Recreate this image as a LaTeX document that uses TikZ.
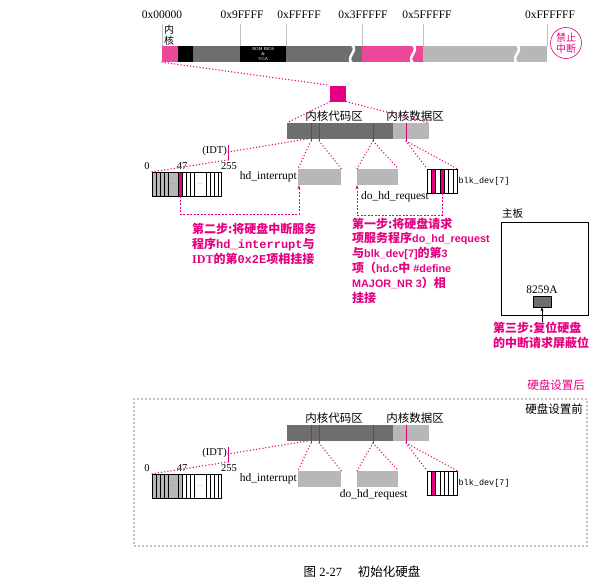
\documentclass[tikz,border=0pt]{standalone}
\usepackage{fontspec}
\setmainfont{Liberation Serif}
\newfontfamily\cjk{Noto Sans CJK SC}
\newfontfamily\codefont{Liberation Mono}
\newfontfamily\stepfont[Scale=0.9]{Liberation Sans}
\newcommand\zht[1]{{\cjk #1}}
\usetikzlibrary{arrows.meta,positioning,calc}
\definecolor{pinkm}{RGB}{229,0,127}
\definecolor{pinkl}{RGB}{236,72,153}
\definecolor{gray1}{RGB}{110,110,110}
\definecolor{gray2}{RGB}{183,183,183}

\begin{document}
\begin{tikzpicture}[x=1pt,y=-1pt,
    seg/.style={rectangle, inner sep=0pt, minimum height=16pt, anchor=west},
    cellbox/.style={draw, thin, inner sep=0pt, anchor=west},
    lbl/.style={inner sep=1pt, font=\fontsize{11.5}{13}\selectfont},
    zhlbl/.style={inner sep=1pt, font=\cjk\fontsize{11.5}{13}\selectfont},
    num/.style={inner sep=0pt, font=\fontsize{10.5}{12}\selectfont},
    pinkdot/.style={draw=pinkm, line width=1.5pt, line cap=round, dash pattern=on 0pt off 3.2pt},
    pinkdash/.style={draw=pinkm, thin, dash pattern=on 2pt off 1.5pt},
    pinkmark/.style={draw=pinkm, line width=0.8pt},
    steptext/.style={anchor=north west, align=left, inner sep=0pt, text=pinkm, font=\fontsize{12}{14.8}\selectfont\bfseries},
    arr/.style={-{Stealth[length=4pt,width=3pt]}}
]
\useasboundingbox (0,0) rectangle (610,586);

% memory map
\node[seg, fill=pinkl, minimum width=16pt] (kseg) at (162,54) {};
\node[seg, fill=black, minimum width=15pt] (bseg) at (178,54) {};
\node[seg, fill=gray1, minimum width=47pt] (lowmem) at (193,54) {};
\node[seg, fill=black, minimum width=46pt, text=white, align=center, font=\fontsize{4.5}{4.6}\selectfont] (rom) at (240,54) {ROM BIOS\\\&\\VGA};
\node[seg, fill=gray1, minimum width=76pt] (extmem) at (286,54) {};
\node[seg, fill=pinkl, minimum width=61pt] (bufmem) at (362,54) {};
\node[seg, fill=gray2, minimum width=124pt] (mainmem) at (423,54) {};
\foreach \x in {352,413,517}
    \draw[white, line width=2.5pt] (\x,45) .. controls (\x+7,51) and (\x-7,57) .. (\x,63);
\foreach \x/\lx/\t in {162/162/0x00000, 240/242/0x9FFFF, 286/299/0xFFFFF, 362/363/0x3FFFFF, 423/427/0x5FFFFF, 547/550/0xFFFFFF} {
    \draw[gray!50, thin] (\x,24) -- (\x,46);
    \node[lbl, inner sep=0pt] (addr\x) at (\lx,15) {\t};
}
\node[inner sep=0pt, align=center, font=\cjk\fontsize{10}{11}\selectfont] (kname) at (169,35) {内\\核};
\node[circle, draw=pinkm, semithick, text=pinkm, inner sep=0pt, minimum size=31pt, align=center, font=\cjk\fontsize{10}{11.5}\selectfont] (nointr) at (566,43) {禁止\\中断};

\node[fill=pinkm, minimum size=16pt, inner sep=0pt] (ksq) at (338,93.5) {};
\draw[pinkdot] (kseg.south west) -- (ksq.north west);

% kernel rows: after (a) and before (b)
\foreach \s/\dy/\idtc/\blkc in {a/0/pinkm/pinkm, b/302/gray2/white} {
\begin{scope}[shift={(0,\dy)}]
    \node[seg, fill=gray1, minimum width=106pt] (kcode\s) at (287,131) {};
    \node[seg, fill=gray2, minimum width=36pt] (kdata\s) at (393,131) {};
    \node[zhlbl] (kcodel\s) at (334,116) {内核代码区};
    \node[zhlbl] (kdatal\s) at (415,116) {内核数据区};
    \foreach \x in {311,319,373,406} {
        \draw[pinkmark] (\x,123) -- (\x,141);
        \coordinate (p\x\s) at (\x,141);
    }
    % IDT
    \coordinate (idtt\s) at (228,145);
    \coordinate (idtm\s) at (228,152);
    \coordinate (idtb\s) at (228,160);
    \coordinate (pidt\s) at (307,139);
    \draw[pinkmark] (idtt\s) -- (idtb\s);
    \node[num, anchor=east] (idtl\s) at (227,151) {(IDT)};
    \node[num] (n0\s) at (147,166) {0};
    \node[num] (n47\s) at (182,166) {47};
    \node[num] (n255\s) at (229,166) {255};
    \fill[gray2] (152,172) rectangle (178,196);
    \fill[\idtc] (178,172) rectangle (182,196);
    \foreach \x in {156,160,164,168,178,182,186,190,194,206,210,214,218}
        \draw[thin] (\x,172) -- (\x,196);
    \node[cellbox, minimum width=69pt, minimum height=24pt] (idt\s) at (152,184) {};
    \node[inner sep=0pt, text=gray, font=\fontsize{6}{6}\selectfont] (idtd1\s) at (173,184) {...};
    \node[inner sep=0pt, text=gray, font=\fontsize{6}{6}\selectfont] (idtd2\s) at (200,184) {...};
    % handlers
    \node[seg, fill=gray2, minimum width=43pt] (hdint\s) at (298,177) {};
    \node[lbl, left=0pt of hdint\s] (hdintl\s) {hd\_interrupt};
    \node[seg, fill=gray2, minimum width=41pt] (hdreq\s) at (357,177) {};
    % blk_dev
    \fill[pinkm] (431.29,169) rectangle (435.57,193);
    \fill[\blkc] (439.86,169) rectangle (444.14,193);
    \foreach \i in {1,...,6}
        \draw[thin] ({427+\i*30/7},169) -- ({427+\i*30/7},193);
    \node[cellbox, minimum width=30pt, minimum height=24pt] (blk\s) at (427,181) {};
    \node[inner sep=1pt, right=0pt of blk\s, font=\codefont\fontsize{8.5}{10}\selectfont] (blkl\s) {blk\_dev[7]};
    % dotted links
    \draw[pinkdot] (pidt\s) -- (idtm\s);
    \draw[pinkdot] (idtb\s) -- (idt\s.north west);
    \draw[pinkdot] (p311\s) -- (hdint\s.north west);
    \draw[pinkdot] (p319\s) -- (hdint\s.north east);
    \draw[pinkdot] (p373\s) -- (hdreq\s.north west);
    \draw[pinkdot] (p373\s) -- (hdreq\s.north east);
    \draw[pinkdot] (p406\s) -- (blk\s.north west);
    \draw[pinkdot] (p406\s) -- (blk\s.north east);
\end{scope}
}
\draw[pinkdot] (ksq.south west) -- (kcodea.north west);
\draw[pinkdot] (ksq.south east) -- (kdataa.north east);

\node[lbl, anchor=north west] (hdreqla) at (360,190) {do\_hd\_request};
\node[lbl, below=1pt of hdreqb, xshift=-4pt] (hdreqlb) {do\_hd\_request};

% hooking steps
\coordinate (idtpk) at (180,196);
\coordinate (blkpk) at (442,193);
\draw[pinkdash, arr] (idtpk) -- ++(0,18) -| ([xshift=1pt]hdinta.south west);
\draw[pinkdash, arr] (blkpk) -- ++(0,22) -| (hdreqa.south west);

\node[steptext] (step2) at (192,223) {\zht{第二步:将硬盘中断服务}\\\zht{程序}{\codefont hd\_interrupt}\zht{与}\\IDT\zht{的第}{\codefont 0x2E}\zht{项相挂接}};
\node[steptext] (step1) at (352,217.5) {\zht{第一步:将硬盘请求}\\\zht{项服务程序}{\stepfont do\_hd\_request}\\\zht{与}{\stepfont blk\_dev[7]}\zht{的第}{\stepfont 3}\\\zht{项（}{\stepfont hd.c}\zht{中} {\stepfont \#define}\\{\stepfont MAJOR\_NR 3}\zht{）相}\\\zht{挂接}};

\node[draw, thin, inner sep=0pt, minimum width=87pt, minimum height=93pt, anchor=north west] (board) at (501,222) {};
\node[zhlbl, font=\cjk\fontsize{10.5}{12}\selectfont, anchor=south west] (boardl) at ([yshift=2pt]board.north west) {主板};
\node[draw, thin, fill=gray1, inner sep=0pt, minimum width=18pt, minimum height=11pt] (pic) at (542,301.5) {};
\node[lbl, above=1pt of pic] (picl) {8259A};
\node[steptext] (step3) at (493,322) {\zht{第三步:复位硬盘}\\\zht{的中断请求屏蔽位}};
\draw[arr] (pic.south |- step3.north) -- (pic.south);

% before / after frame
\node[zhlbl, anchor=east, text=pinkm] (afterl) at (586,385) {硬盘设置后};
\draw[line width=1.4pt, line cap=round, dash pattern=on 0pt off 4pt] (134,399) rectangle (587,546);
\node[zhlbl, anchor=east] (beforel) at (584,409) {硬盘设置前};

\node[inner sep=0pt, font=\fontsize{12.5}{14}\selectfont] (caption) at (362,572) {\zht{图} 2-27\quad\ \zht{初始化硬盘}};
\end{tikzpicture}
\end{document}
